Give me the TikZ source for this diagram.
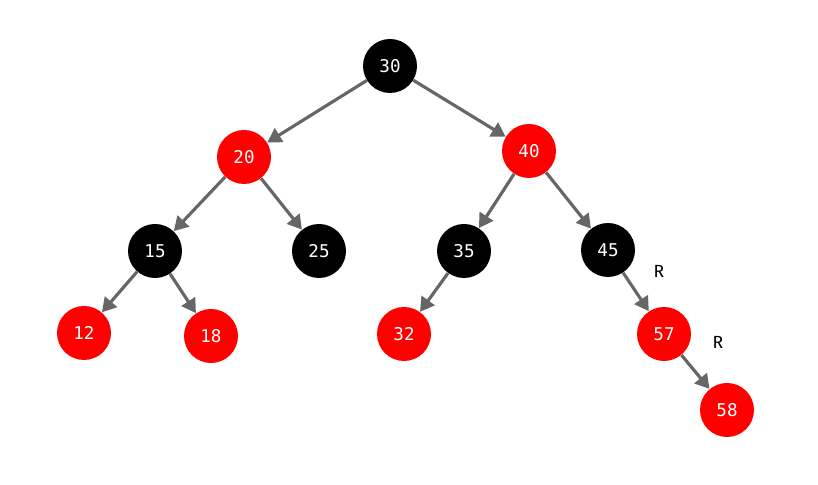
\documentclass[tikz,border=0pt]{standalone}
\usepackage{fontspec}
\setmainfont{Fira Sans}
\setmonofont{DejaVu Sans Mono}
\usepackage{tikz}
\usetikzlibrary{arrows.meta, positioning}
\definecolor{edgeGray}{RGB}{102, 102, 102}
\definecolor{treeRed}{RGB}{255, 0, 0}

\begin{document}
\begin{tikzpicture}[
    rbnode/.style={
      circle, minimum size=1.08cm, inner sep=0pt,
      font=\ttfamily, text=white
    },
    rednode/.style={rbnode, fill=treeRed},
    blacknode/.style={rbnode, fill=black},
    arrow/.style={-{Triangle[length=8pt, width=9pt]}, line width=1.8pt, edgeGray},
    label/.style={font=\normalsize, text=black}
  ]
    \useasboundingbox (0,0) rectangle (16.36,9.70);

    % Top level
    \node[blacknode] (n30) at (7.80,8.38) {30};

    % Second level
    \node[rednode] (n20) at (4.88,6.56) {20};
    \node[rednode] (n40) at (10.58,6.68) {40};

    % Third level
    \node[blacknode] (n15) at (3.10,4.68) {15};
    \node[blacknode] (n25) at (6.38,4.68) {25};
    \node[blacknode] (n35) at (9.28,4.68) {35};
    \node[blacknode] (n45) at (12.16,4.70) {45};

    % Fourth level
    \node[rednode] (n12) at (1.68,3.04) {12};
    \node[rednode] (n18) at (4.22,2.98) {18};
    \node[rednode] (n32) at (8.08,3.02) {32};
    \node[rednode] (n57) at (13.28,3.02) {57};

    % Fifth level
    \node[rednode] (n58) at (14.54,1.50) {58};

    % Arrows
    \draw[arrow] (n30) -- (n20);
    \draw[arrow] (n30) -- (n40);
    \draw[arrow] (n20) -- (n15);
    \draw[arrow] (n20) -- (n25);
    \draw[arrow] (n40) -- (n35);
    \draw[arrow] (n40) -- (n45);
    \draw[arrow] (n15) -- (n12);
    \draw[arrow] (n15) -- (n18);
    \draw[arrow] (n35) -- (n32);
    \draw[arrow] (n45) -- (n57);
    \draw[arrow] (n57) -- (n58);

    % Rotation marks
    \node[label] (r1) at (13.18,4.28) {R};
    \node[label] (r2) at (14.36,2.86) {R};
  \end{tikzpicture}
\end{document}
